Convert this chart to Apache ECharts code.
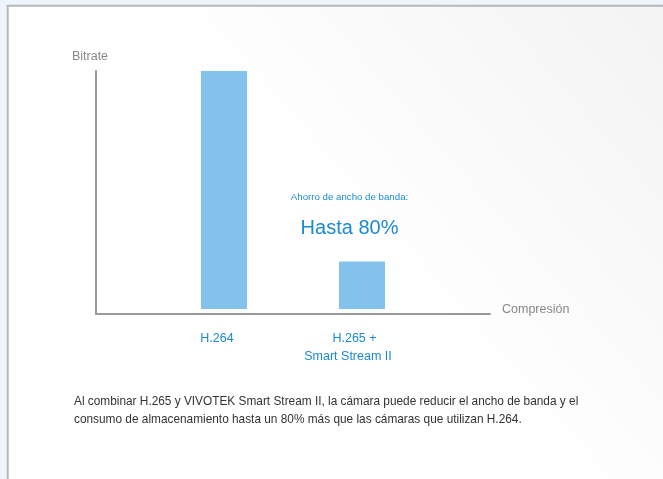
<!DOCTYPE html>
<html><head><meta charset="utf-8">
<script src="https://cdn.jsdelivr.net/npm/echarts@6/dist/echarts.min.js"></script>
<style>html,body{margin:0;padding:0;background:#eef5fc;}#c{width:663px;height:479px;}</style>
</head><body><div id="c"></div>
<script>
var categories = ['H.264', 'H.265 +\nSmart Stream II'];
var bitrateValues = [100, 20];
var yAxisName = 'Bitrate';
var xAxisName = 'Compresión';
var noteSmall = 'Ahorro de ancho de banda:';
var noteBig = 'Hasta 80%';
var caption = 'Al combinar H.265 y VIVOTEK Smart Stream II, la cámara puede reducir el ancho de banda y el\nconsumo de almacenamiento hasta un 80% más que las cámaras que utilizan H.264.';

var FONT = '"Liberation Sans", Arial, sans-serif';
var BLUE = '#1a8ad4';
var chart = echarts.init(document.getElementById('c'), null, {renderer: 'canvas'});
chart.setOption({
  backgroundColor: '#eef5fc',
  animation: false,
  graphic: [{
    type: 'rect', z: -10, silent: true,
    shape: {x: 7.7, y: 5.7, width: 700, height: 500},
    style: {
      stroke: '#b7b7b7', lineWidth: 2,
      fill: new echarts.graphic.LinearGradient(1, 0, 0.55, 0.55, [
        {offset: 0, color: '#f2f2f2'}, {offset: 1, color: '#ffffff'}
      ])
    }
  }],
  title: [
    {text: noteSmall, left: 349.5, top: 192, textAlign: 'center', padding: 0,
     textStyle: {fontFamily: FONT, fontSize: 9.7, fontWeight: 'normal', color: BLUE}},
    {text: noteBig, left: 349.5, top: 218, textAlign: 'center', padding: 0,
     textStyle: {fontFamily: FONT, fontSize: 20, fontWeight: 'normal', color: BLUE}},
    {text: caption, left: 74, top: 393, padding: 0,
     textStyle: {fontFamily: FONT, fontSize: 11.85, lineHeight: 18, fontWeight: 'normal', color: '#333333'}}
  ],
  grid: [
    {left: 96, right: 173, top: 71, bottom: 165},
    {left: 155, right: 232, top: 71, bottom: 170}
  ],
  xAxis: [
    {gridIndex: 0, type: 'value', min: 0, max: 1,
     axisLine: {show: true, lineStyle: {color: '#999999', width: 2}},
     axisTick: {show: false}, axisLabel: {show: false}, splitLine: {show: false},
     name: xAxisName, nameLocation: 'end', nameGap: 12,
     nameTextStyle: {fontFamily: FONT, fontSize: 12.5, color: '#888888', verticalAlign: 'bottom', lineHeight: 8}},
    {gridIndex: 1, type: 'category', data: categories,
     axisLine: {show: false}, axisTick: {show: false}, splitLine: {show: false},
     axisLabel: {
       margin: 21, interval: 0,
       formatter: function (v, i) {
         var lines = v.split('\n');
         if (i === 0) return '{a|' + lines[0] + '}';
         return '{b|' + lines[0] + '}\n{c|' + lines[1] + '}';
       },
       rich: {
         a: {fontFamily: FONT, fontSize: 12.5, color: BLUE, lineHeight: 18, padding: [0, 14, 0, 0]},
         b: {fontFamily: FONT, fontSize: 12.5, color: BLUE, lineHeight: 18, padding: [0, 15, 0, 0]},
         c: {fontFamily: FONT, fontSize: 12.5, color: BLUE, lineHeight: 18, padding: [0, 28, 0, 0]}
       }
     }}
  ],
  yAxis: [
    {gridIndex: 0, type: 'value', min: 0, max: 1,
     axisLine: {show: true, lineStyle: {color: '#999999', width: 2}},
     axisTick: {show: false}, axisLabel: {show: false}, splitLine: {show: false},
     name: yAxisName, nameLocation: 'end', nameGap: 8,
     nameTextStyle: {fontFamily: FONT, fontSize: 12.5, color: '#888888', align: 'center', padding: [0, 12, 0, 0]}},
    {gridIndex: 1, type: 'value', min: 0, max: 100,
     axisLine: {show: false}, axisTick: {show: false}, axisLabel: {show: false}, splitLine: {show: false}}
  ],
  series: [{
    type: 'bar', xAxisIndex: 1, yAxisIndex: 1,
    data: bitrateValues, barWidth: 46,
    itemStyle: {color: '#83c2ec'}
  }]
});
</script></body></html>
